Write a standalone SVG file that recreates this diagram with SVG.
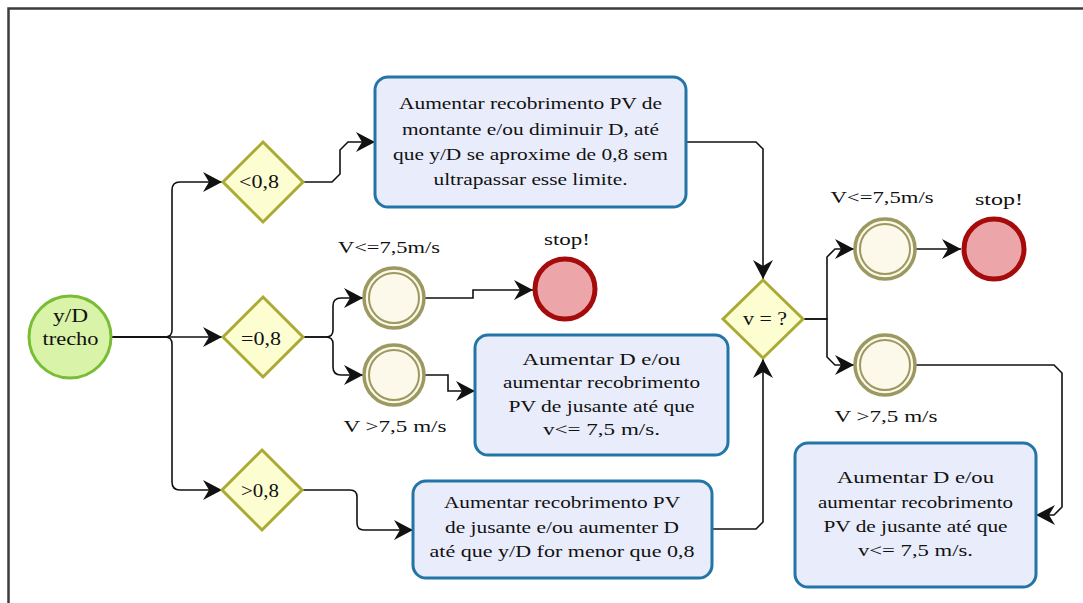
<svg xmlns="http://www.w3.org/2000/svg" width="1083" height="603" viewBox="0 0 1083 603">
  <style>
    text { font-family: 'Liberation Serif', 'DejaVu Serif', 'Times New Roman', Times, serif; fill: #111; text-anchor: middle; }
    .t { font-size: 17px; }
    .lbl { font-size: 17px; }
    .dl { font-size: 18px; }
    .task { fill: #e9edfb; stroke: #2275a6; stroke-width: 3; }
    .gw { fill: #fdfdd2; stroke: #aaaa35; stroke-width: 3; }
    .ev-o { fill: #fcf8ea; stroke: #9c9960; stroke-width: 3.5; }
    .ev-i { fill: none; stroke: #9c9960; stroke-width: 2; }
    .stop { fill: #eca6aa; stroke: #a50b0b; stroke-width: 5; }
    .start { fill: #d9f3a8; stroke: #78bd35; stroke-width: 3; }
    .c { fill: none; stroke: #111; stroke-width: 1.6; marker-end: url(#arr); }
  </style>
  <defs>
    <marker id="arr" markerUnits="userSpaceOnUse" markerWidth="22" markerHeight="22" viewBox="-19 -11 21 22" refX="0" refY="0" orient="auto">
      <path d="M0,0 L-19,-10 L-13,0 L-19,10 Z" fill="#111"/>
    </marker>
  </defs>
  <rect width="1083" height="603" fill="#fff"/>
  <path d="M1090,8.5 H8.5 V610" fill="none" stroke="#3c3c3c" stroke-width="2.5"/>

  <g id="connectors">
    <path class="c" d="M112,337 H165 Q172,337 172,330 V190 Q172,182 180,182 H222"/>
    <path class="c" d="M112,337 H222"/>
    <path class="c" d="M112,337 H165 Q172,337 172,344 V482 Q172,490 180,490 H222"/>
    <path class="c" d="M303,182 H332 L340,174 V150 L348,142 H375"/>
    <path class="c" d="M686,142 H756 L763,149 V279"/>
    <path class="c" d="M303,337 H326 Q333,337 333,330 V306 Q333,298 341,298 H363"/>
    <path class="c" d="M303,337 H326 Q333,337 333,344 V367 Q333,375 341,375 H363"/>
    <path class="c" d="M425,298 H473 V290 H533"/>
    <path class="c" d="M425,375 H448 V391 H475"/>
    <path class="c" d="M302,490 H350 Q357,490 357,497 V523 Q357,530 364,530 H413"/>
    <path class="c" d="M712,529 H756 L763,522 V359"/>
    <path class="c" d="M803,319 H827 V257 L835,249 H854"/>
    <path class="c" d="M803,319 H827 V357 L835,365 H854"/>
    <path class="c" d="M916,249 H961"/>
    <path class="c" d="M916,365 H1054 L1062,373 V507 L1054,515 H1036"/>
  </g>

  <g id="start">
    <circle class="start" cx="70" cy="337" r="41"/>
    <text class="dl" x="70.5" y="322" textLength="35" lengthAdjust="spacingAndGlyphs">y/D</text>
    <text class="dl" x="70.5" y="345" textLength="56" lengthAdjust="spacingAndGlyphs">trecho</text>
  </g>

  <g id="gw-lt">
    <polygon class="gw" points="263,142 303,182 263,222 223,182"/>
    <text class="dl" x="259" y="188" textLength="40" lengthAdjust="spacingAndGlyphs">&lt;0,8</text>
  </g>
  <g id="gw-eq">
    <polygon class="gw" points="263,297 303,337 263,377 223,337"/>
    <text class="dl" x="261" y="345" textLength="40" lengthAdjust="spacingAndGlyphs">=0,8</text>
  </g>
  <g id="gw-gt">
    <polygon class="gw" points="262,450 302,490 262,530 222,490"/>
    <text class="dl" x="260" y="497" textLength="38" lengthAdjust="spacingAndGlyphs">&gt;0,8</text>
  </g>
  <g id="gw-v">
    <polygon class="gw" points="763,280 803,319 763,358 723,319"/>
    <text class="dl" x="765" y="325" textLength="44" lengthAdjust="spacingAndGlyphs">v = ?</text>
  </g>

  <g id="task1">
    <rect class="task" x="375" y="77" width="311" height="130" rx="13"/>
    <text class="t" x="530.5" y="109" textLength="263" lengthAdjust="spacingAndGlyphs">Aumentar recobrimento PV de</text>
    <text class="t" x="530.5" y="135" textLength="257" lengthAdjust="spacingAndGlyphs">montante e/ou diminuir D, até</text>
    <text class="t" x="530.5" y="160" textLength="275" lengthAdjust="spacingAndGlyphs">que y/D se aproxime de 0,8 sem</text>
    <text class="t" x="530.5" y="185" textLength="194" lengthAdjust="spacingAndGlyphs">ultrapassar esse limite.</text>
  </g>

  <g id="task2">
    <rect class="task" x="475" y="335" width="253" height="120" rx="13"/>
    <text class="t" x="601.5" y="365" textLength="158" lengthAdjust="spacingAndGlyphs">Aumentar D e/ou</text>
    <text class="t" x="601.5" y="388" textLength="197" lengthAdjust="spacingAndGlyphs">aumentar recobrimento</text>
    <text class="t" x="601.5" y="412" textLength="186" lengthAdjust="spacingAndGlyphs">PV de jusante até que</text>
    <text class="t" x="601.5" y="435" textLength="117" lengthAdjust="spacingAndGlyphs">v&lt;= 7,5 m/s.</text>
  </g>

  <g id="task3">
    <rect class="task" x="413" y="481" width="299" height="97" rx="13"/>
    <text class="t" x="562" y="508" textLength="236" lengthAdjust="spacingAndGlyphs">Aumentar recobrimento PV</text>
    <text class="t" x="562" y="533" textLength="234" lengthAdjust="spacingAndGlyphs">de jusante e/ou aumenter D</text>
    <text class="t" x="562" y="557" textLength="265" lengthAdjust="spacingAndGlyphs">até que y/D for menor que 0,8</text>
  </g>

  <g id="task4">
    <rect class="task" x="795" y="443" width="241" height="144" rx="13"/>
    <text class="t" x="915.5" y="483" textLength="157" lengthAdjust="spacingAndGlyphs">Aumentar D e/ou</text>
    <text class="t" x="915.5" y="508" textLength="195" lengthAdjust="spacingAndGlyphs">aumentar recobrimento</text>
    <text class="t" x="915.5" y="532" textLength="184" lengthAdjust="spacingAndGlyphs">PV de jusante até que</text>
    <text class="t" x="915.5" y="556" textLength="115" lengthAdjust="spacingAndGlyphs">v&lt;= 7,5 m/s.</text>
  </g>

  <g id="ev-le1">
    <circle class="ev-o" cx="394" cy="298" r="30"/>
    <circle class="ev-i" cx="394" cy="298" r="25"/>
    <text class="lbl" x="389" y="253" textLength="102" lengthAdjust="spacingAndGlyphs">V&lt;=7,5m/s</text>
  </g>
  <g id="ev-gt1">
    <circle class="ev-o" cx="394" cy="375" r="30"/>
    <circle class="ev-i" cx="394" cy="375" r="25"/>
    <text class="lbl" x="395" y="432" textLength="103" lengthAdjust="spacingAndGlyphs">V &gt;7,5 m/s</text>
  </g>
  <g id="stop1">
    <circle class="stop" cx="565" cy="289" r="30"/>
    <text class="lbl" x="567" y="245" textLength="46" lengthAdjust="spacingAndGlyphs">stop!</text>
  </g>
  <g id="ev-le2">
    <circle class="ev-o" cx="885" cy="249" r="30"/>
    <circle class="ev-i" cx="885" cy="249" r="25"/>
    <text class="lbl" x="882" y="203" textLength="103" lengthAdjust="spacingAndGlyphs">V&lt;=7,5m/s</text>
  </g>
  <g id="ev-gt2">
    <circle class="ev-o" cx="885" cy="365" r="30"/>
    <circle class="ev-i" cx="885" cy="365" r="25"/>
    <text class="lbl" x="886" y="422" textLength="103" lengthAdjust="spacingAndGlyphs">V &gt;7,5 m/s</text>
  </g>
  <g id="stop2">
    <circle class="stop" cx="994" cy="249" r="30"/>
    <text class="lbl" x="999" y="205" textLength="48" lengthAdjust="spacingAndGlyphs">stop!</text>
  </g>
</svg>
